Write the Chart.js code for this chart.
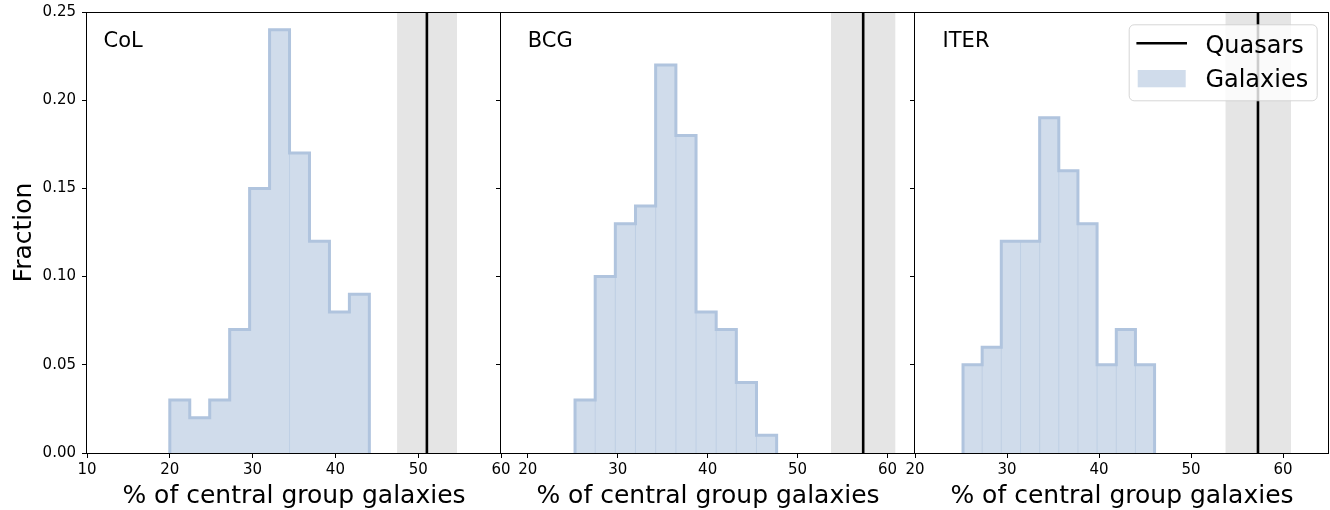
<!DOCTYPE html>
<html><head><meta charset="utf-8">
<script src="https://cdn.jsdelivr.net/npm/chart.js@4.4.1/dist/chart.umd.min.js"></script>
<style>
html,body{margin:0;padding:0;background:#fff;}
#wrap{position:relative;width:1330px;height:510px;overflow:hidden;}
#wrap canvas{position:absolute;left:0;top:0;}
</style></head>
<body><div id="wrap">
<canvas id="c0" width="1330" height="510"></canvas>
<canvas id="c1" width="1330" height="510"></canvas>
<canvas id="c2" width="1330" height="510"></canvas>
</div>
<script>
// ---- data ----
const panelNames = ['CoL', 'BCG', 'ITER'];
const legendLabels = ['Quasars', 'Galaxies'];
const xTitle = '% of central group galaxies';
const yTitle = 'Fraction';

const edgesCoL  = [20.00, 22.41, 24.82, 27.23, 29.64, 32.05, 34.46, 36.87, 39.28, 41.69, 44.10];
const valuesCoL = [0.03, 0.02, 0.03, 0.07, 0.15, 0.24, 0.17, 0.12, 0.08, 0.09];
const edgesBCG  = [25.26, 27.50, 29.74, 31.98, 34.22, 36.47, 38.71, 40.95, 43.19, 45.43, 47.67];
const valuesBCG = [0.03, 0.10, 0.13, 0.14, 0.22, 0.18, 0.08, 0.07, 0.04, 0.01];
const edgesITER  = [25.22, 27.30, 29.38, 31.47, 33.55, 35.63, 37.71, 39.79, 41.88, 43.96, 46.04];
const valuesITER = [0.05, 0.06, 0.12, 0.12, 0.19, 0.16, 0.13, 0.05, 0.07, 0.05];

const quasarValue = [51.05, 57.29, 57.28];
const quasarLow   = [47.45, 53.70, 53.73];
const quasarHigh  = [54.69, 60.89, 60.87];

const xTicksCoL  = [10, 20, 30, 40, 50, 60];
const xTicksBCG  = [20, 30, 40, 50, 60];
const xTicksITER = [20, 30, 40, 50, 60];
const yTickValues = [0, 0.05, 0.10, 0.15, 0.20, 0.25];
const yTickLabels = ['0.00', '0.05', '0.10', '0.15', '0.20', '0.25'];

// ---- layout / style ----
const xRanges = [[10, 60], [17.03, 63.05], [20, 65]];
const yMax = 0.25;
const panelLeft = [87, 501, 915];
const panelWidth = 414;
const nameAnchorX = [12, 20, 23];
const nameAnchorY = 0.23;
const seamIdx = [[6], [1,2,3,4,5,6,7,8,9], [1,2,3,4,5,6,7,8,9]];
const fillColor = 'rgb(208,220,235)';
const edgeColor = 'rgb(176,196,222)';
const seamColor = 'rgba(176,196,222,0.55)';
const bandColor = '#e5e5e5';

const edges = [edgesCoL, edgesBCG, edgesITER];
const values = [valuesCoL, valuesBCG, valuesITER];
const xTicks = [xTicksCoL, xTicksBCG, xTicksITER];

Chart.defaults.font.family = '"DejaVu Sans", sans-serif';
Chart.defaults.color = '#000';

function zeroPad(s) { s.paddingTop = 0; s.paddingBottom = 0; s.paddingLeft = 0; s.paddingRight = 0; }

const framePlugin = {
  id: 'frame',
  afterDatasetsDraw(chart) {
    const {ctx, chartArea: a} = chart;
    ctx.save();
    ctx.strokeStyle = '#000';
    ctx.lineWidth = 1;
    ctx.strokeRect(Math.round(a.left) - 0.5, Math.round(a.top) + 0.5,
                   Math.round(a.right - a.left), Math.round(a.bottom - a.top));
    ctx.restore();
  }
};

const namePlugin = {
  id: 'panelName',
  afterDatasetsDraw(chart, args, opts) {
    const {ctx, scales} = chart;
    ctx.save();
    ctx.font = '21px "DejaVu Sans"';
    ctx.fillStyle = '#000';
    ctx.textBaseline = 'alphabetic';
    ctx.textAlign = 'left';
    ctx.fillText(opts.text, scales.x.getPixelForValue(opts.x), scales.y.getPixelForValue(nameAnchorY));
    ctx.restore();
  }
};

const legendPlugin = {
  id: 'qLegend',
  afterDraw(chart) {
    const {ctx, chartArea: a} = chart;
    const bw = 188, bh = 76;
    const bx = a.right - 12.3 - bw, by = a.top + 12.3;
    ctx.save();
    ctx.beginPath();
    ctx.roundRect(bx + 0.5, by + 0.5, bw, bh, 5);
    ctx.fillStyle = 'rgba(255,255,255,0.8)';
    ctx.fill();
    ctx.strokeStyle = 'rgba(204,204,204,0.8)';
    ctx.lineWidth = 1;
    ctx.stroke();
    ctx.beginPath();
    ctx.moveTo(bx + 7.7, by + 19);
    ctx.lineTo(bx + 58.3, by + 19);
    ctx.strokeStyle = '#000';
    ctx.lineWidth = 2.6;
    ctx.stroke();
    ctx.fillStyle = fillColor;
    ctx.fillRect(bx + 9, by + 45.7, 48, 17.3);
    ctx.font = '24px "DejaVu Sans"';
    ctx.fillStyle = '#000';
    ctx.textBaseline = 'alphabetic';
    ctx.fillText(legendLabels[0], bx + 76.7, by + 28.4);
    ctx.fillText(legendLabels[1], bx + 76.7, by + 62.4);
    ctx.restore();
  }
};

function makePanel(i) {
  const e = edges[i], v = values[i];
  const histPts = [{x: e[0], y: 0}];
  for (let k = 0; k < v.length; k++) histPts.push({x: e[k], y: v[k]});
  histPts.push({x: e[v.length], y: 0});
  const seamPts = [];
  seamIdx[i].forEach(k => {
    seamPts.push({x: e[k], y: 0}, {x: e[k], y: Math.min(v[k - 1], v[k])}, {x: e[k], y: null});
  });
  const yW = i === 0 ? 87 : 10;
  const plugins = [framePlugin, namePlugin];
  if (i === 2) plugins.push(legendPlugin);

  new Chart(document.getElementById('c' + i), {
    type: 'scatter',
    data: {
      datasets: [
        {label: legendLabels[0], data: [{x: quasarValue[i], y: 0}, {x: quasarValue[i], y: yMax}],
         showLine: true, borderColor: '#000', borderWidth: 2.6, pointRadius: 0, fill: false},
        {label: 'outline', data: histPts, showLine: true, stepped: true,
         borderColor: edgeColor, borderWidth: 3, pointRadius: 0, fill: false},
        {label: 'seams', data: seamPts, showLine: true, spanGaps: false,
         borderColor: seamColor, borderWidth: 1, pointRadius: 0, fill: false},
        {label: legendLabels[1], data: histPts, showLine: true, stepped: true,
         borderColor: 'transparent', borderWidth: 0, pointRadius: 0,
         backgroundColor: fillColor, fill: 'origin'},
        {label: 'band', data: [{x: quasarLow[i], y: yMax}, {x: quasarHigh[i], y: yMax}],
         showLine: true, borderColor: 'transparent', borderWidth: 0, pointRadius: 0,
         backgroundColor: bandColor, fill: 'origin'}
      ]
    },
    options: {
      responsive: false,
      animation: false,
      events: [],
      layout: {padding: {left: panelLeft[i] - yW, right: 1330 - panelLeft[i] - panelWidth, top: 12, bottom: 0}},
      plugins: {
        legend: {display: false},
        tooltip: {enabled: false},
        panelName: {text: panelNames[i], x: nameAnchorX[i]}
      },
      scales: {
        x: {
          type: 'linear', min: xRanges[i][0], max: xRanges[i][1],
          afterBuildTicks: s => { s.ticks = xTicks[i].map(t => ({value: t})); },
          afterFit: s => { s.height = 57; zeroPad(s); },
          ticks: {font: {size: 15}, color: '#000', padding: 3, maxRotation: 0, autoSkip: false,
                  callback: (val) => String(val)},
          grid: {drawOnChartArea: false, color: '#000', lineWidth: 1, tickLength: 5},
          border: {display: false},
          title: {display: true, text: xTitle, color: '#000', font: {size: 25, lineHeight: 1.08}, padding: 0}
        },
        y: {
          type: 'linear', min: 0, max: yMax,
          afterBuildTicks: s => { s.ticks = yTickValues.map(t => ({value: t})); },
          afterFit: s => { s.width = yW; zeroPad(s); },
          ticks: {display: i === 0, font: {size: 15}, color: '#000', padding: 6,
                  callback: (val, idx) => yTickLabels[idx]},
          grid: {drawOnChartArea: false, color: '#000', lineWidth: 1, tickLength: 5},
          border: {display: false},
          title: {display: i === 0, text: yTitle, color: '#000', font: {size: 25, lineHeight: 1.08},
                  padding: {top: 11, bottom: 0}}
        }
      }
    },
    plugins: plugins
  });
}
[0, 1, 2].forEach(makePanel);
</script>
</body></html>
